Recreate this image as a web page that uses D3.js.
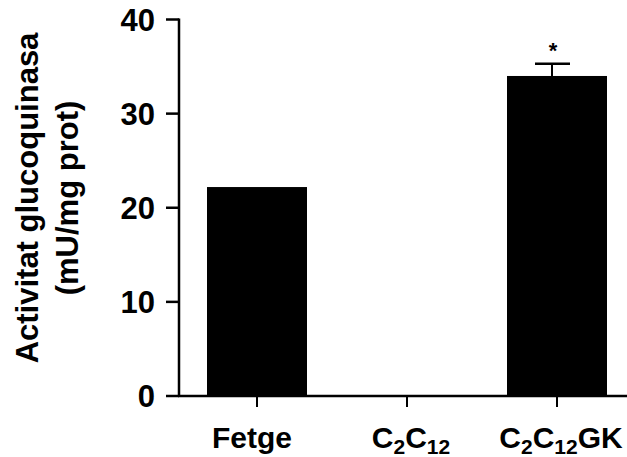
<!DOCTYPE html>
<html>
<head>
<meta charset="utf-8">
<script src="https://d3js.org/d3.v7.min.js"></script>
<style>
  html, body { margin: 0; padding: 0; background: #fff; }
  svg { display: block; }
  text { font-family: "Liberation Sans", Arial, Helvetica, sans-serif; font-weight: bold; fill: #000; }
</style>
</head>
<body>
<script>
// Glucokinase activity per sample
const categories = ["Fetge", "C2C12", "C2C12GK"];
const values = [22.2, 0, 34.0];
const errors = [0, 0, 1.3];
const significance = ["", "", "*"];
const yTicks = [0, 10, 20, 30, 40];
// x tick labels as runs of [text, isSubscript]
const tickLabels = [
  [["Fetge", false]],
  [["C", false], ["2", true], ["C", false], ["12", true]],
  [["C", false], ["2", true], ["C", false], ["12", true], ["GK", false]]
];

const W = 627, H = 457;
const svg = d3.select("body").append("svg").attr("width", W).attr("height", H);

const x = d3.scaleBand().domain(categories).range([182, 632])
  .paddingInner(1 / 3).paddingOuter(1 / 6);
const y = d3.scaleLinear().domain([0, 40]).range([396, 19.5]);
const x0 = 179;

// bars
svg.append("g").selectAll("rect").data(categories).join("rect")
  .attr("x", d => x(d))
  .attr("width", x.bandwidth())
  .attr("y", (d, i) => y(values[i]))
  .attr("height", (d, i) => y(0) - y(values[i]))
  .attr("fill", "#000");

// error bars (upper whisker) and significance marks
categories.forEach((c, i) => {
  const cx = x(c) + x.bandwidth() / 2 - 5;
  if (errors[i] > 0) {
    const top = y(values[i] + errors[i]);
    svg.append("line").attr("x1", cx).attr("x2", cx)
      .attr("y1", y(values[i])).attr("y2", top)
      .attr("stroke", "#000").attr("stroke-width", 2);
    svg.append("line").attr("x1", cx - 17).attr("x2", cx + 18)
      .attr("y1", top).attr("y2", top)
      .attr("stroke", "#000").attr("stroke-width", 2.5);
  }
  if (significance[i]) {
    svg.append("text").attr("x", cx + 1).attr("y", y(values[i] + errors[i]) - 6)
      .attr("text-anchor", "middle").attr("font-size", 22)
      .text(significance[i]);
  }
});

// y axis
const yAxis = svg.append("g");
yAxis.append("line").attr("x1", x0).attr("x2", x0)
  .attr("y1", y(40) - 1).attr("y2", y(0) + 1)
  .attr("stroke", "#000").attr("stroke-width", 2.5);
yAxis.selectAll("line.tick").data(yTicks).join("line").attr("class", "tick")
  .attr("x1", x0 - 13).attr("x2", x0)
  .attr("y1", d => y(d)).attr("y2", d => y(d))
  .attr("stroke", "#000").attr("stroke-width", 2.5);
yAxis.selectAll("text").data(yTicks).join("text")
  .attr("x", x0 - 24).attr("y", d => y(d))
  .attr("dy", "0.36em")
  .attr("text-anchor", "end").attr("font-size", 31)
  .text(d => d);

// x axis
const xAxis = svg.append("g");
xAxis.append("line").attr("x1", x0 - 1).attr("x2", W)
  .attr("y1", y(0)).attr("y2", y(0))
  .attr("stroke", "#000").attr("stroke-width", 2.5);
xAxis.selectAll("line.tick").data(categories).join("line").attr("class", "tick")
  .attr("x1", d => x(d) + x.bandwidth() / 2).attr("x2", d => x(d) + x.bandwidth() / 2)
  .attr("y1", y(0)).attr("y2", y(0) + 11)
  .attr("stroke", "#000").attr("stroke-width", 2);
xAxis.selectAll("text").data(categories).join("text")
  .attr("x", (d, i) => x(d) + x.bandwidth() / 2 + (i === 0 ? -5 : 4))
  .attr("y", 448)
  .attr("text-anchor", "middle").attr("font-size", 30)
  .each(function (d, i) {
    const t = d3.select(this);
    tickLabels[i].forEach(([s, sub]) => {
      t.append("tspan")
        .attr("font-size", sub ? 21 : 30)
        .attr("baseline-shift", sub ? "-6" : null)
        .text(s);
    });
  });

// y axis title
const title = svg.append("text")
  .attr("transform", "translate(0,198) rotate(-90)")
  .attr("text-anchor", "middle").attr("font-size", 31);
title.append("tspan").attr("x", 0).attr("y", 38).text("Activitat glucoquinasa");
title.append("tspan").attr("x", 0).attr("y", 78).text("(mU/mg prot)");
</script>
</body>
</html>
